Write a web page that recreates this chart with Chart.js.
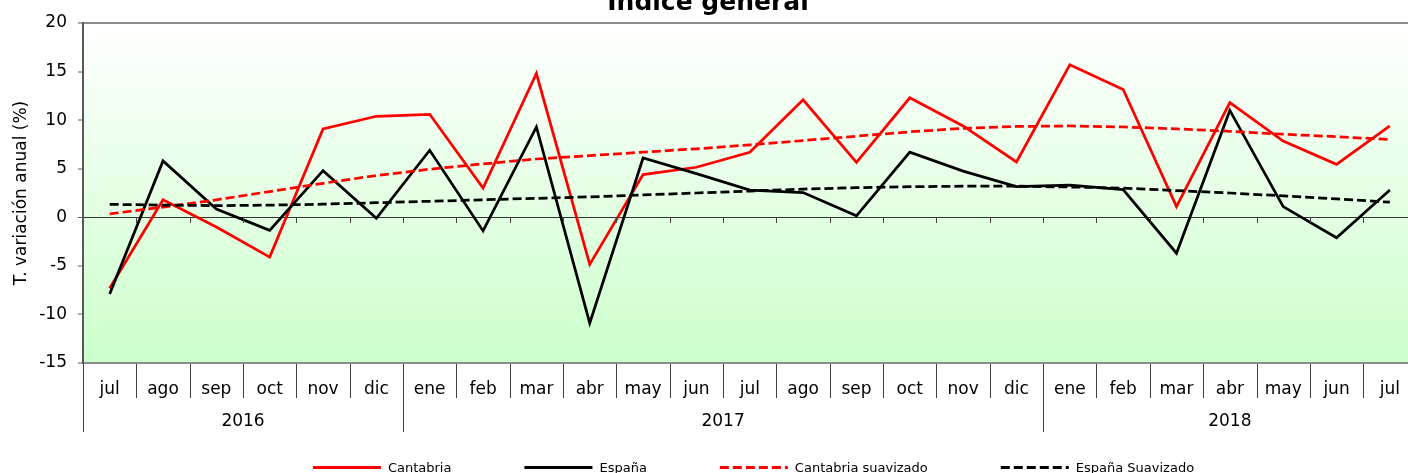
<!DOCTYPE html>
<html><head><meta charset="utf-8">
<script src="https://cdn.jsdelivr.net/npm/chart.js@4.4.0/dist/chart.umd.min.js"></script>
<style>html,body{margin:0;padding:0;background:#fff;overflow:hidden}#wrap{width:1408px;height:473px;position:relative}</style>
</head><body><div id="wrap"><canvas id="c" width="1408" height="473"></canvas></div>
<script>
const months = ['jul','ago','sep','oct','nov','dic','ene','feb','mar','abr','may','jun','jul','ago','sep','oct','nov','dic','ene','feb','mar','abr','may','jun','jul'];
const years = ['2016','2017','2018'];
const yearMonths = [6, 12, 7];
const cantabria = [-7.3, 1.8, -1.0, -4.1, 9.1, 10.4, 10.6, 3.0, 14.8, -4.85, 4.4, 5.15, 6.7, 12.1, 5.65, 12.3, 9.4, 5.7, 15.7, 13.15, 1.1, 11.8, 7.85, 5.45, 9.4];
const espana = [-7.9, 5.8, 0.85, -1.35, 4.8, -0.1, 6.9, -1.4, 9.3, -10.9, 6.1, 4.5, 2.8, 2.55, 0.15, 6.7, 4.75, 3.15, 3.3, 2.85, -3.7, 11.0, 1.1, -2.1, 2.8];
const cantabriaSuav = [0.35, 1.05, 1.8, 2.65, 3.5, 4.3, 4.95, 5.5, 6.0, 6.35, 6.7, 7.05, 7.45, 7.9, 8.35, 8.8, 9.15, 9.35, 9.4, 9.3, 9.1, 8.85, 8.55, 8.3, 8.0];
const espanaSuav = [1.33, 1.25, 1.2, 1.25, 1.35, 1.5, 1.65, 1.8, 1.95, 2.1, 2.3, 2.5, 2.7, 2.9, 3.05, 3.15, 3.2, 3.2, 3.12, 3.0, 2.75, 2.5, 2.2, 1.9, 1.55];
const yTicks = [-15, -10, -5, 0, 5, 10, 15, 20];
const seriesNames = ['Cantabria', 'España', 'Cantabria suavizado', 'España Suavizado'];
const titleText = 'Índice general';
const yTitle = 'T. variación anual (%)';

const FONT = '"DejaVu Sans", sans-serif';
Chart.defaults.font.family = FONT;
Chart.defaults.color = '#000';

const pts = arr => arr.map((v, i) => ({x: i, y: v}));

const bgPlugin = {
  id: 'bg',
  beforeDraw(chart) {
    const {ctx, chartArea: a} = chart;
    const g = ctx.createLinearGradient(0, a.top, 0, a.bottom);
    g.addColorStop(0, '#ffffff');
    g.addColorStop(1, '#ccffcc');
    ctx.save();
    ctx.fillStyle = g;
    ctx.fillRect(a.left, a.top, a.right - a.left, a.bottom - a.top);
    ctx.restore();
  }
};

const decorPlugin = {
  id: 'decor',
  afterDraw(chart) {
    const {ctx, chartArea: a} = chart;
    const xs = chart.scales.x, ys = chart.scales.y;
    const y0 = ys.getPixelForValue(0);
    ctx.save();
    ctx.lineWidth = 1;
    ctx.strokeStyle = '#404040';
    for (let i = -1; i < months.length; i++) {
      const px = Math.round(xs.getPixelForValue(i + 0.5)) + 0.5;
      if (i >= 0) {
        ctx.beginPath(); ctx.moveTo(px, Math.round(y0)); ctx.lineTo(px, Math.round(y0) + 6); ctx.stroke();
      }
      ctx.beginPath(); ctx.moveTo(px, a.bottom + 1); ctx.lineTo(px, a.bottom + 35); ctx.stroke();
    }
    let start = 0;
    ctx.font = '17px ' + FONT;
    ctx.fillStyle = '#000';
    ctx.textAlign = 'center';
    ctx.textBaseline = 'middle';
    years.forEach((yr, k) => {
      const end = start + yearMonths[k];
      const pl = Math.round(xs.getPixelForValue(start - 0.5)) + 0.5;
      ctx.beginPath(); ctx.moveTo(pl, a.bottom + 1); ctx.lineTo(pl, a.bottom + 69); ctx.stroke();
      const pc = (xs.getPixelForValue(start - 0.5) + xs.getPixelForValue(end - 0.5)) / 2;
      ctx.fillText(yr, pc, a.bottom + 59);
      start = end;
    });
    ctx.font = 'bold 25px ' + FONT;
    ctx.textBaseline = 'alphabetic';
    ctx.fillText(titleText, 708, 10);
    ctx.font = '13px ' + FONT;
    const lineW = 68, txtGap = 7, itemGap = 73;
    const ds = chart.data.datasets;
    const widths = ds.map(d => lineW + txtGap + ctx.measureText(d.label).width);
    const total = widths.reduce((s, w) => s + w, 0) + itemGap * (ds.length - 1);
    let x = 753.5 - total / 2;
    const ly = 467.5;
    ctx.textAlign = 'left';
    ctx.textBaseline = 'middle';
    ds.forEach((d, i) => {
      ctx.strokeStyle = d.borderColor;
      ctx.lineWidth = 3;
      ctx.setLineDash(d.borderDash || []);
      ctx.beginPath(); ctx.moveTo(x, ly); ctx.lineTo(x + lineW, ly); ctx.stroke();
      ctx.setLineDash([]);
      ctx.fillStyle = '#000';
      ctx.fillText(d.label, x + lineW + txtGap, ly + 1);
      x += widths[i] + itemGap;
    });
    ctx.restore();
  }
};

new Chart(document.getElementById('c'), {
  type: 'line',
  data: {
    datasets: [
      {label: seriesNames[0], data: pts(cantabria), borderColor: '#ff0000', borderWidth: 2.75, order: 4},
      {label: seriesNames[1], data: pts(espana), borderColor: '#000000', borderWidth: 2.75, order: 3},
      {label: seriesNames[2], data: pts(cantabriaSuav), borderColor: '#ff0000', borderWidth: 2.75, borderDash: [9, 4], order: 2},
      {label: seriesNames[3], data: pts(espanaSuav), borderColor: '#000000', borderWidth: 2.75, borderDash: [9, 4], order: 1}
    ]
  },
  options: {
    responsive: false,
    animation: false,
    devicePixelRatio: 1,
    layout: {padding: {top: 23, left: 0, right: 0, bottom: 0}},
    elements: {point: {radius: 0}, line: {tension: 0, fill: false, borderCapStyle: 'butt', borderJoinStyle: 'miter'}},
    plugins: {legend: {display: false}, title: {display: false}, tooltip: {enabled: false}},
    scales: {
      x: {
        type: 'linear',
        min: -0.5,
        max: 24.34,
        afterBuildTicks: s => { s.ticks = months.map((m, i) => ({value: i})); },
        afterFit: s => { s.height = 110; s.paddingRight = 0; s.paddingLeft = 0; },
        grid: {display: false},
        border: {display: false},
        ticks: {
          autoSkip: false, maxRotation: 0, padding: 8, font: {size: 17}, color: '#000',
          callback: (v, i) => months[i]
        }
      },
      y: {
        min: -15, max: 20,
        afterBuildTicks: s => { s.ticks = yTicks.map(v => ({value: v})); },
        afterFit: s => { s.width = 83; },
        grid: {
          drawOnChartArea: true, drawTicks: true, tickLength: 5,
          color: c => c.tick.value === 0 ? '#333333' : (c.tick.value === 20 || c.tick.value === -15 ? '#8c8c8c' : 'rgba(0,0,0,0)'),
          lineWidth: c => c.tick.value === 0 ? 1 : 2,
          tickColor: '#595959', tickWidth: 1
        },
        border: {display: true, color: '#595959', width: 2},
        ticks: {padding: 11, font: {size: 17}, color: '#000'},
        title: {display: true, text: yTitle, font: {size: 17}, color: '#000', padding: {top: 11, bottom: 0}}
      }
    }
  },
  plugins: [bgPlugin, decorPlugin]
});
</script></body></html>
